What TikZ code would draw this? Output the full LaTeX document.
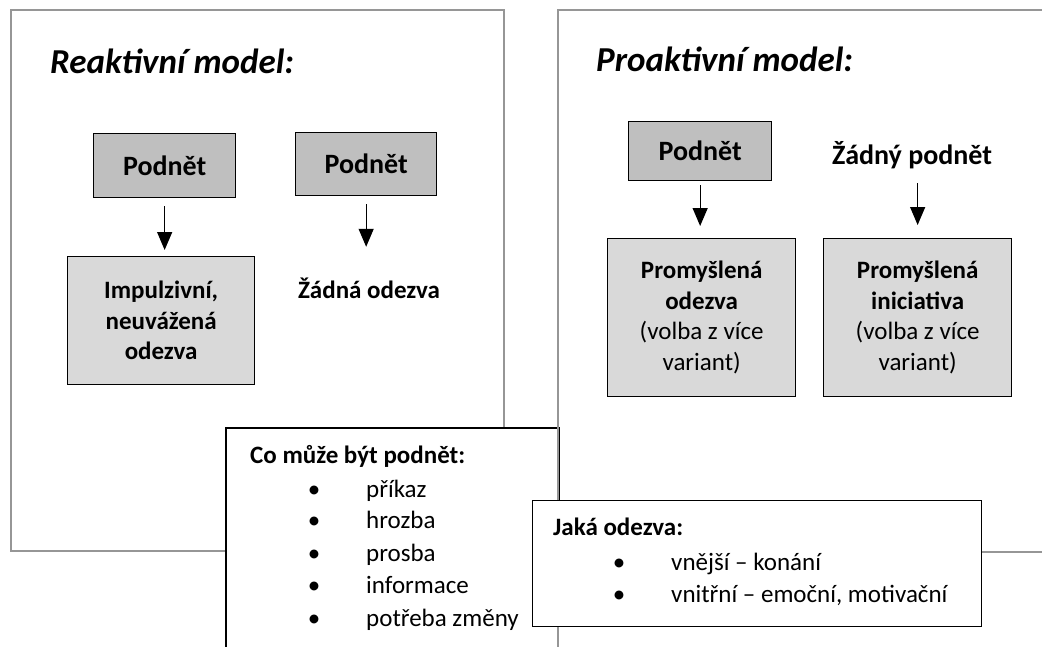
\documentclass[tikz,border=0pt]{standalone}
\usepackage{fontspec}
\setmainfont{Carlito}
\usetikzlibrary{arrows.meta}
\definecolor{stimgray}{RGB}{191,191,191}
\definecolor{respgray}{RGB}{217,217,217}
\definecolor{framegray}{RGB}{150,150,150}
\tikzset{
  panel/.style={draw=framegray, line width=1.2pt},
  stimbox/.style={draw=black, line width=1.3pt, fill=stimgray, anchor=north west,
    inner sep=0pt, font=\fontsize{28}{34}\selectfont\bfseries},
  respbox/.style={draw=black, line width=1.3pt, fill=respgray, anchor=north west,
    inner sep=0pt, align=center, font=\fontsize{25}{30.5}\selectfont},
  freetext/.style={anchor=base, inner sep=0pt},
  arr/.style={line width=1.3pt, -{Triangle[width=15pt,length=18pt]}},
  infobox/.style={draw=black, line width=1.4pt, fill=white},
  heading/.style={anchor=base west, inner sep=0pt, font=\fontsize{25}{30}\selectfont\bfseries},
  listitem/.style={anchor=base west, inner sep=0pt, font=\fontsize{25}{30}\selectfont},
  bul/.style={anchor=base, inner sep=0pt, font=\fontsize{25}{30}\selectfont},
  paneltitle/.style={anchor=base west, inner sep=0pt, font=\fontsize{35}{42}\selectfont\bfseries\itshape},
}
\begin{document}
\begin{tikzpicture}[x=1pt, y=-1pt]
\useasboundingbox (0,0) rectangle (1042,646);
\begin{scope}
\clip (0,0) rectangle (1042,646);

% left panel
\draw[panel] (11,10) rectangle (504,551);

% what a stimulus can be (box runs off the bottom edge)
\fill[white] (226,428) rectangle (559,700);
\draw[draw=black, line width=1.4pt] (559,500) -- (559,428) -- (226,428) -- (226,700);

% right panel
\draw[panel] (558,10) rectangle (1060,552);
\draw[panel] (558,552) -- (558,660);

% reactive model
\node[paneltitle] (t1) at (50,73) {Reaktivní model:};
\node[stimbox, minimum width=142pt, minimum height=64pt] (p1) at (93,133) {Podnět};
\node[respbox, minimum width=187pt, minimum height=128pt, font=\fontsize{25}{30.5}\selectfont\bfseries] (r1) at (67,256)
  {Impulzivní,\\neuvážená\\odezva};
\node[stimbox, minimum width=141pt, minimum height=63pt] (p2) at (295,132) {Podnět};
\node[freetext, text height=20pt, font=\fontsize{25}{30}\selectfont\bfseries] (z1) at (369,298) {Žádná odezva};

\draw[arr, shorten <=8pt, shorten >=6pt] (p1.south) -- (p1.south |- r1.north);
\draw[arr, shorten <=8pt, shorten >=31pt] (p2.south) -- (p2.south |- z1.north);

% proactive model
\node[paneltitle] (t2) at (596,71) {Proaktivní model:};
\node[stimbox, minimum width=143pt, minimum height=59pt] (p3) at (628,121) {Podnět};
\node[freetext, text depth=6pt, font=\fontsize{28}{34}\selectfont\bfseries] (z2) at (912,164) {Žádný podnět};
\node[respbox, minimum width=188pt, minimum height=158pt] (r3) at (607,238)
  {\textbf{Promyšlená}\\\textbf{odezva}\\(volba z více\\variant)};
\node[respbox, minimum width=188pt, minimum height=158pt] (r4) at (823,238)
  {\textbf{Promyšlená}\\\textbf{iniciativa}\\(volba z více\\variant)};

\draw[arr, shorten <=4pt, shorten >=12pt] (p3.south) -- (p3.south |- r3.north);
\draw[arr, shorten <=13pt, shorten >=13pt] (r4.north |- z2.south) -- (r4.north);

% list of stimuli
\node[heading] (h1) at (250,463) {Co může být podnět:};
\foreach \y/\t [count=\i] in {497/příkaz, 528/hrozba, 561/prosba, 593/informace, 626/potřeba změny}{
  \node[bul] (b1\i) at (314,\y) {•};
  \node[listitem] (s1\i) at (366,\y) {\t};
}

% kinds of response
\node[infobox, anchor=north west, inner sep=0pt, minimum width=449pt, minimum height=126pt] (jb) at (532,500) {};
\node[heading] (h2) at (553,535) {Jaká odezva:};
\node[bul] (b21) at (619,570) {•};
\node[listitem] (s21) at (671,570) {vnější – konání};
\node[bul] (b22) at (619,602) {•};
\node[listitem] (s22) at (671,602) {vnitřní – emoční, motivační};
\end{scope}
\end{tikzpicture}
\end{document}
